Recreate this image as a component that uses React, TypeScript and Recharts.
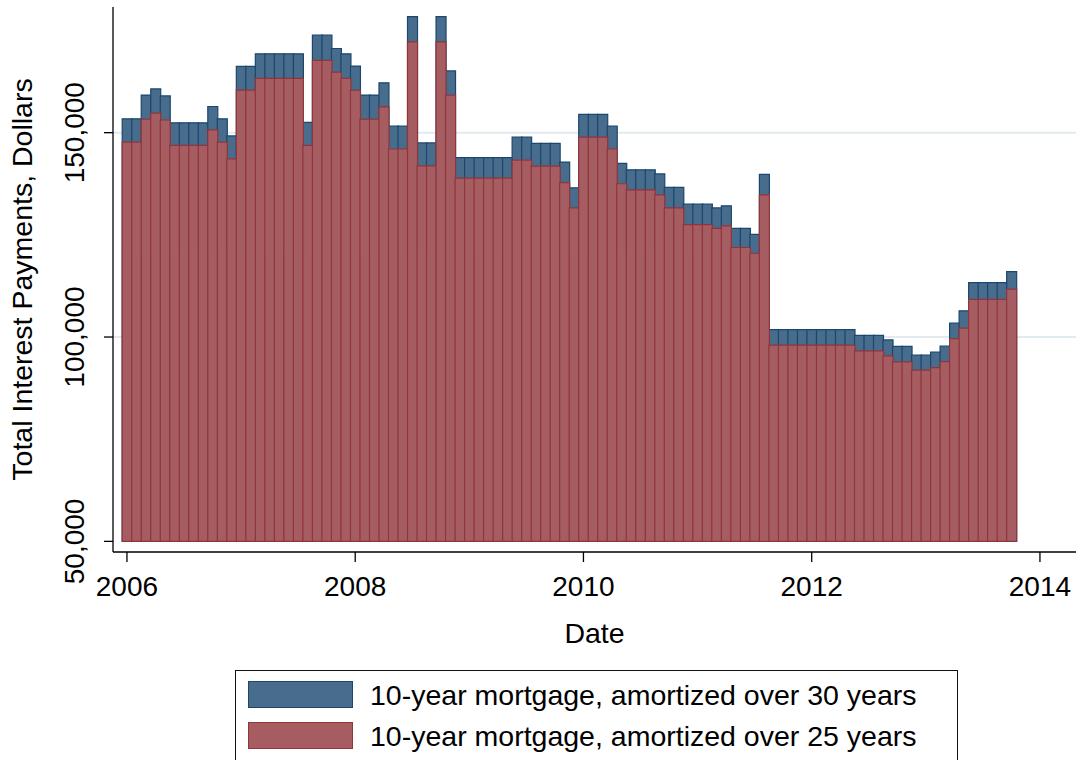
import React from 'react';
import { BarChart, Bar, XAxis, YAxis, CartesianGrid, Legend, Label } from 'recharts';

const months = [
  '2006-01','2006-02','2006-03','2006-04','2006-05','2006-06','2006-07','2006-08','2006-09','2006-10','2006-11','2006-12',
  '2007-01','2007-02','2007-03','2007-04','2007-05','2007-06','2007-07','2007-08','2007-09','2007-10','2007-11','2007-12',
  '2008-01','2008-02','2008-03','2008-04','2008-05','2008-06','2008-07','2008-08','2008-09','2008-10','2008-11','2008-12',
  '2009-01','2009-02','2009-03','2009-04','2009-05','2009-06','2009-07','2009-08','2009-09','2009-10','2009-11','2009-12',
  '2010-01','2010-02','2010-03','2010-04','2010-05','2010-06','2010-07','2010-08','2010-09','2010-10','2010-11','2010-12',
  '2011-01','2011-02','2011-03','2011-04','2011-05','2011-06','2011-07','2011-08','2011-09','2011-10','2011-11','2011-12',
  '2012-01','2012-02','2012-03','2012-04','2012-05','2012-06','2012-07','2012-08','2012-09','2012-10','2012-11','2012-12',
  '2013-01','2013-02','2013-03','2013-04','2013-05','2013-06','2013-07','2013-08','2013-09','2013-10','2013-11','2013-12',
  '2014-01',
];

// 10-year mortgage, amortized over 30 years
const interest30 = [
  153400,153400,159200,160700,159000,152400,152400,152400,152400,156400,153400,149200,
  166200,166200,169300,169300,169300,169300,169300,152500,173900,173900,170600,169300,
  166300,159200,159200,162200,151600,151600,178400,147500,147500,178400,165100,143900,
  143900,143900,143900,143900,143900,148900,148900,147400,147400,147400,142800,136500,
  154500,154500,154500,151600,142500,140900,140900,140900,139900,136600,136600,132500,
  132500,132500,131600,132100,126600,126600,125100,139800,101800,101800,101800,101800,
  101800,101800,101800,101800,101800,100400,100400,100400,99300,97700,97700,95600,
  95600,96300,97800,103400,106400,113300,113300,113300,113300,116000,
];

// 10-year mortgage, amortized over 25 years
const interest25 = [
  147700,147700,153300,154800,153100,146900,146900,146900,146900,150700,147700,143600,
  160400,160400,163300,163300,163300,163300,163300,146900,167700,167700,164800,163300,
  160400,153300,153300,156300,146000,146000,172200,141900,141900,172200,159200,138900,
  138900,138900,138900,138900,138900,143300,143300,141800,141800,141800,137800,131600,
  148900,148900,148900,146000,137500,136000,136000,136000,134800,131600,131600,127500,
  127500,127500,126600,127200,121900,121900,120500,134800,98000,98000,98000,98000,
  98000,98000,98000,98000,98000,96600,96600,96600,95400,93900,93900,91900,
  91900,92500,94000,99600,102200,109200,109200,109200,109200,111700,
];

const xTicks = ['2006-01', '2008-01', '2010-01', '2012-01', '2014-01'];
const yTicks = [50000, 100000, 150000];
const gridValues = [100000, 150000];
const barBase = 50000;
const yDomain = [47400, 180750];

const seriesNames = [
  '10-year mortgage, amortized over 30 years',
  '10-year mortgage, amortized over 25 years',
];

const FONT = '"Liberation Sans", Arial, Helvetica, sans-serif';
const BLUE_FILL = '#486c8c';
const BLUE_LINE = '#1a476f';
const RED_FILL = '#a65d62';
const RED_LINE = '#90353b';

const data = months.map((m, i) => ({
  m,
  r30: i < interest30.length ? [barBase, interest30[i]] : null,
  r25: i < interest25.length ? [barBase, interest25[i]] : null,
}));

const fmt = (v: number) => v.toLocaleString('en-US');

const YTick = (props: any) => {
  const { x, y, payload } = props;
  return (
    <text
      x={x}
      y={y}
      transform={`rotate(-90, ${x}, ${y})`}
      textAnchor="middle"
      fontSize={28}
      fontFamily={FONT}
      fill="#000"
    >
      {fmt(payload.value)}
    </text>
  );
};

const YTitle = (props: any) => {
  const vb = props.viewBox || {};
  const cx = 32;
  const cy = vb.y + vb.height / 2;
  return (
    <text
      x={cx}
      y={cy}
      transform={`rotate(-90, ${cx}, ${cy})`}
      textAnchor="middle"
      fontSize={28.5}
      fontFamily={FONT}
      fill="#000"
    >
      Total Interest Payments, Dollars
    </text>
  );
};

const LegendBox = (props: any) => {
  const payload = props.payload || [];
  const colors = [
    { fill: BLUE_FILL, line: BLUE_LINE },
    { fill: RED_FILL, line: RED_LINE },
  ];
  return (
    <div
      style={{
        position: 'relative',
        width: 723,
        height: 90,
        boxSizing: 'border-box',
        border: '1px solid #111',
        borderBottom: 'none',
        background: '#fff',
        fontFamily: FONT,
      }}
    >
      {seriesNames.map((name, i) => {
        const entry = payload.find((p: any) => p.value === name);
        const label = entry ? entry.value : name;
        return (
          <div key={name}>
            <div
              style={{
                position: 'absolute',
                left: 12,
                top: 10 + i * 41,
                width: 105,
                height: 27,
                boxSizing: 'border-box',
                background: colors[i].fill,
                border: `1.5px solid ${colors[i].line}`,
              }}
            />
            <div
              style={{
                position: 'absolute',
                left: 134,
                top: 6 + i * 41,
                fontSize: 28.5,
                lineHeight: '36px',
                color: '#000',
                whiteSpace: 'nowrap',
              }}
            >
              {label}
            </div>
          </div>
        );
      })}
    </div>
  );
};

export default function App() {
  return (
    <div style={{ position: 'absolute', left: 0, top: 0, width: 1076, height: 760, overflow: 'hidden', background: '#fff' }}>
      <BarChart
        width={1076}
        height={760}
        data={data}
        margin={{ top: 7, right: 0, bottom: 0, left: 0 }}
        barCategoryGap={0}
        barGap={0}
      >
        <CartesianGrid vertical={false} horizontalValues={gridValues} stroke="#e1eaee" strokeWidth={2} />
        <XAxis
          dataKey="m"
          type="category"
          ticks={xTicks}
          interval={0}
          tickFormatter={(m: string) => m.slice(0, 4)}
          padding={{ left: 9.2, right: 31.3 }}
          height={208}
          tickSize={10}
          tickMargin={14}
          axisLine={{ stroke: '#000', strokeWidth: 1.3 }}
          tickLine={{ stroke: '#000', strokeWidth: 1.3 }}
          tick={{ fill: '#000', fontSize: 28, fontFamily: FONT }}
        >
          <Label value="Date" position="insideTop" offset={71} fill="#000" fontSize={28.5} fontFamily={FONT} />
        </XAxis>
        <XAxis
          xAxisId="b"
          dataKey="m"
          type="category"
          hide
          padding={{ left: 9.2, right: 31.3 }}
        />
        <YAxis
          width={113}
          type="number"
          domain={yDomain}
          allowDataOverflow
          ticks={yTicks}
          interval={0}
          tickSize={9}
          tickMargin={20}
          axisLine={{ stroke: '#000', strokeWidth: 1.3 }}
          tickLine={{ stroke: '#000', strokeWidth: 1.3 }}
          tick={<YTick />}
        >
          <Label content={<YTitle />} />
        </YAxis>
        <Bar
          xAxisId="b"
          dataKey="r30"
          name={seriesNames[0]}
          fill={BLUE_FILL}
          stroke={BLUE_LINE}
          strokeWidth={1.2}
          isAnimationActive={false}
        />
        <Bar
          dataKey="r25"
          name={seriesNames[1]}
          fill={RED_FILL}
          stroke={RED_LINE}
          strokeWidth={1.2}
          isAnimationActive={false}
        />
        <Legend
          layout="horizontal"
          verticalAlign="middle"
          align="center"
          wrapperStyle={{ left: 235, top: 670, width: 723, height: 90 }}
          content={<LegendBox />}
        />
      </BarChart>
    </div>
  );
}
